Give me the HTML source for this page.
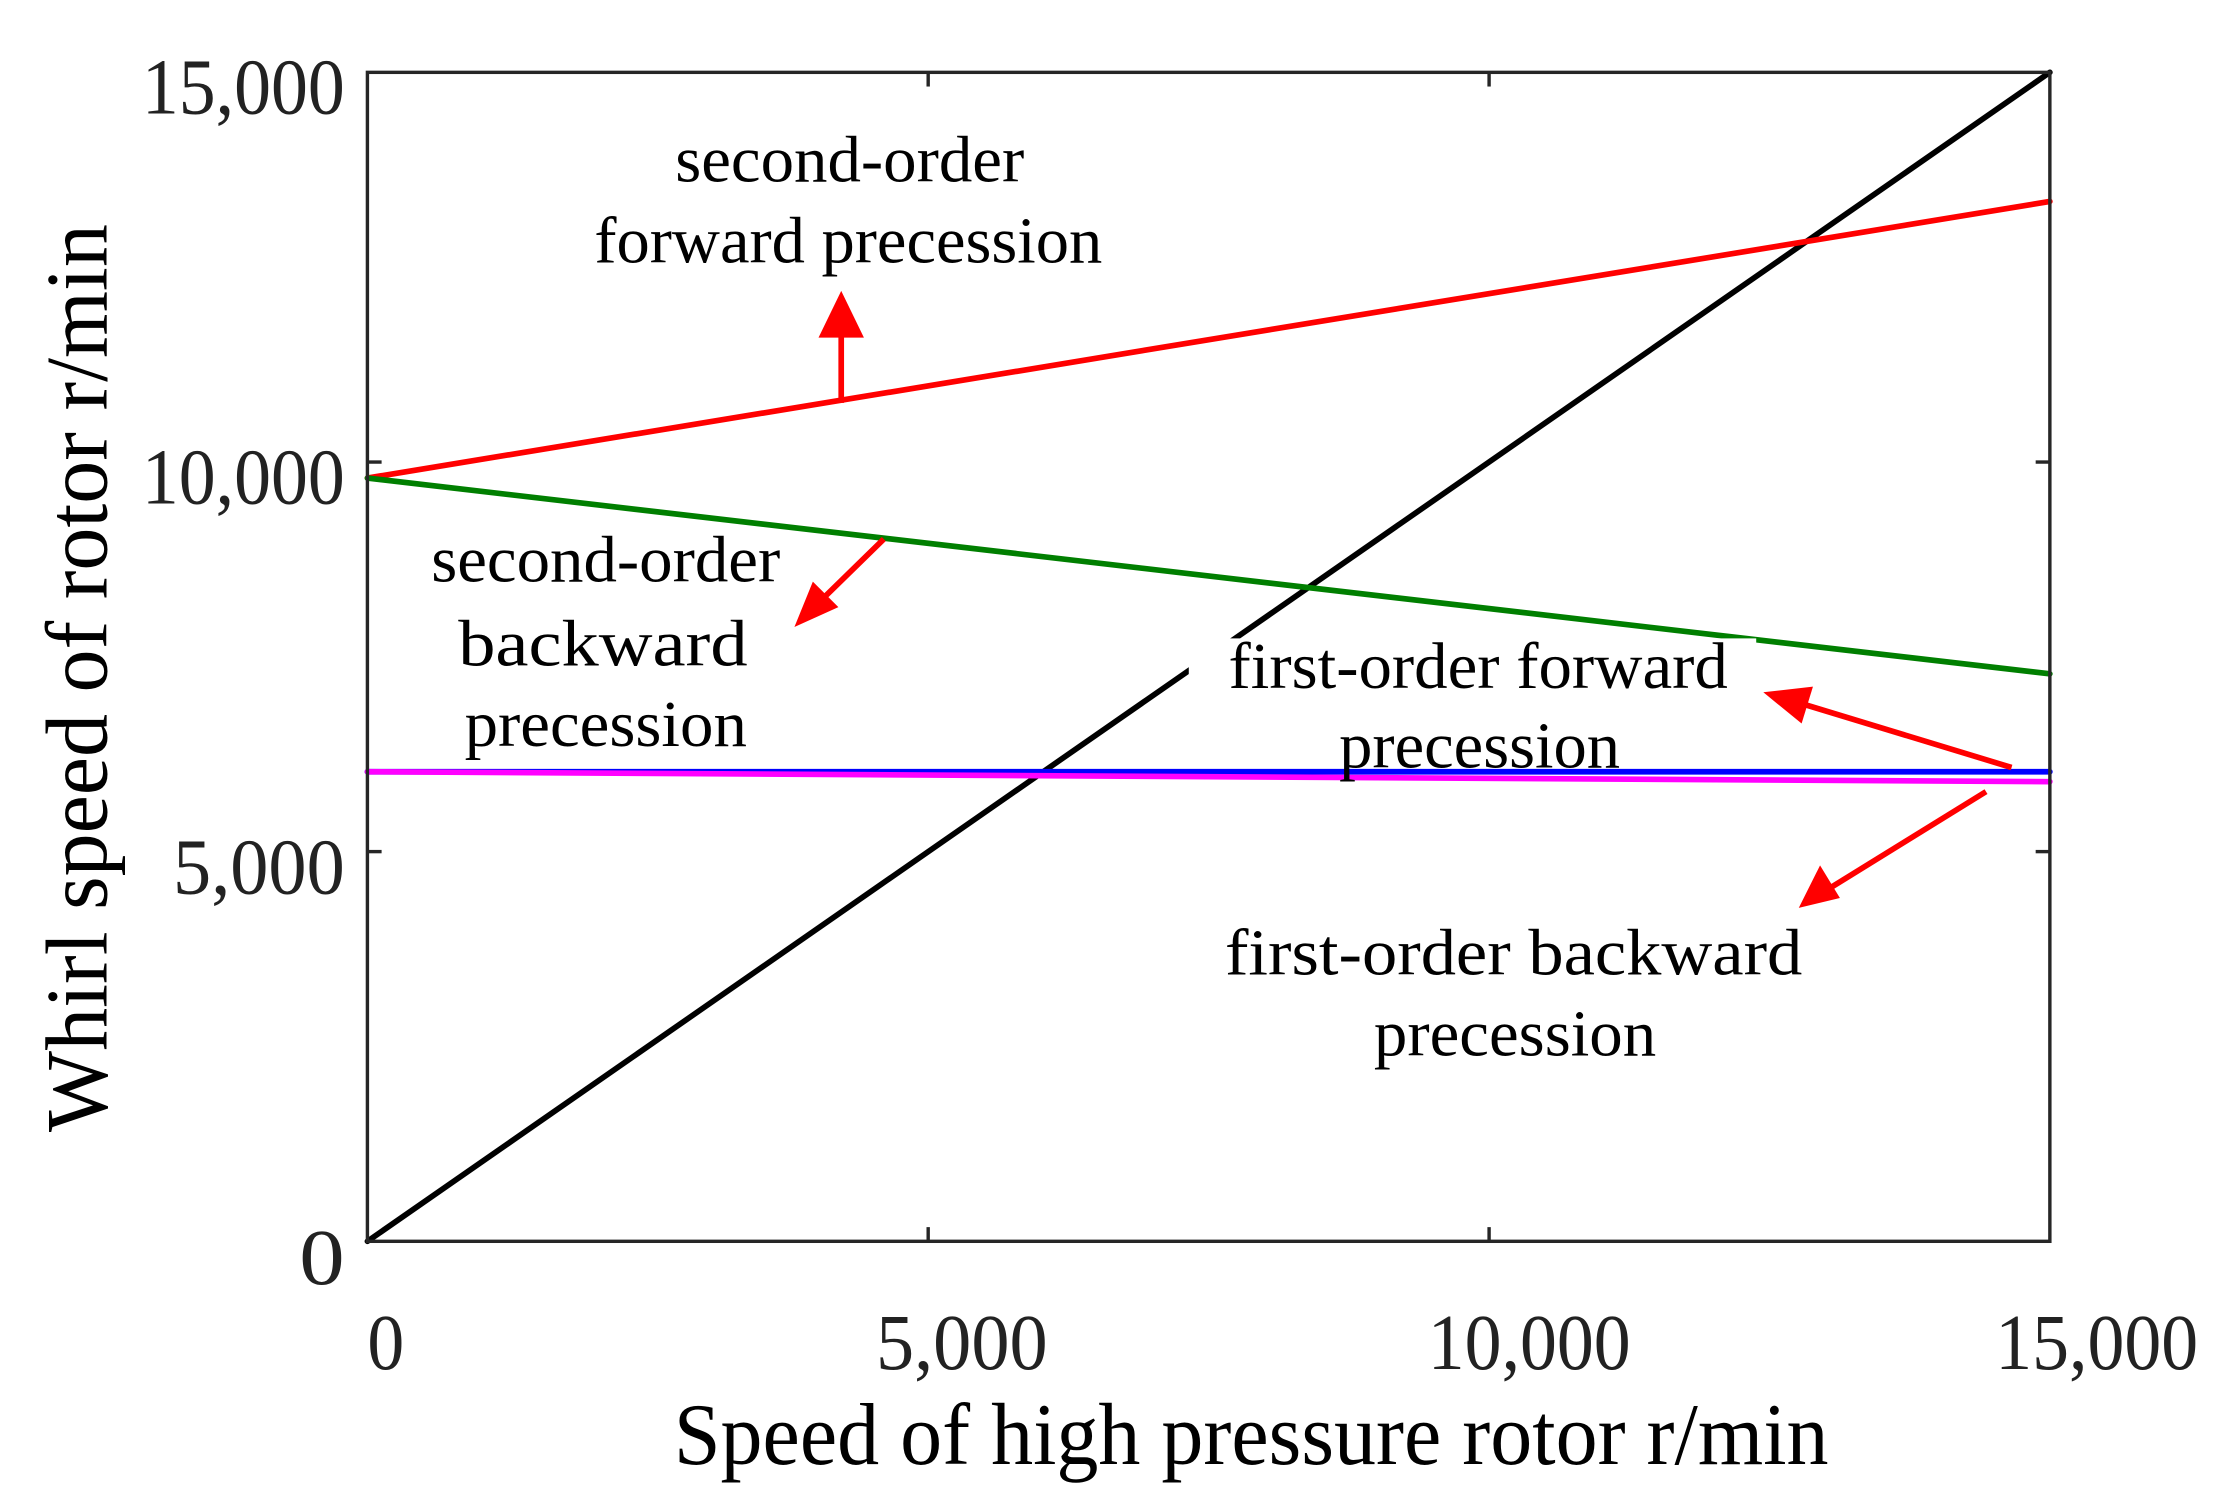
<!DOCTYPE html>
<html><head><meta charset="utf-8"><style>html,body{margin:0;padding:0;background:#fff}svg{display:block}</style></head>
<body>
<svg width="2213" height="1510" viewBox="0 0 1560 1064.4" preserveAspectRatio="none" xmlns="http://www.w3.org/2000/svg" font-family="Liberation Serif, serif" fill="#222">
<g stroke-width="4" fill="none" stroke-linecap="round">
<line x1="259" y1="875" x2="1445" y2="51" stroke="#000"/>
<line x1="259" y1="337" x2="1445" y2="142" stroke="#ff0000"/>
<line x1="259" y1="337" x2="1445" y2="475" stroke="#007f00"/>
<line x1="259" y1="544" x2="1445" y2="544" stroke="#0000ff"/>
<line x1="259" y1="544" x2="1445" y2="551" stroke="#ff00ff"/>
</g>
<rect x="838" y="450" width="400" height="45" fill="#fff"/>
<g stroke="#262626" stroke-width="2.4" fill="none">
<rect x="259" y="51" width="1186" height="824"/>
<line x1="654.3" y1="875" x2="654.3" y2="865"/><line x1="1049.7" y1="875" x2="1049.7" y2="865"/>
<line x1="654.3" y1="51" x2="654.3" y2="61"/><line x1="1049.7" y1="51" x2="1049.7" y2="61"/>
<line x1="259" y1="600.3" x2="269" y2="600.3"/><line x1="259" y1="325.7" x2="269" y2="325.7"/>
<line x1="1445" y1="600.3" x2="1435" y2="600.3"/><line x1="1445" y1="325.7" x2="1435" y2="325.7"/>
</g>
<g font-size="56" text-anchor="end">
<text x="243" y="905" textLength="32" lengthAdjust="spacingAndGlyphs">0</text>
<text x="243" y="630" textLength="121" lengthAdjust="spacingAndGlyphs">5,000</text>
<text x="243" y="355" textLength="143" lengthAdjust="spacingAndGlyphs">10,000</text>
<text x="243" y="80" textLength="143" lengthAdjust="spacingAndGlyphs">15,000</text>
</g>
<g font-size="56" text-anchor="middle">
<text x="272" y="965" textLength="26" lengthAdjust="spacingAndGlyphs">0</text>
<text x="678" y="965" textLength="121" lengthAdjust="spacingAndGlyphs">5,000</text>
<text x="1078" y="965" textLength="143" lengthAdjust="spacingAndGlyphs">10,000</text>
<text x="1478" y="965" textLength="143" lengthAdjust="spacingAndGlyphs">15,000</text>
</g>
<text x="882" y="1032" font-size="62" fill="#000" text-anchor="middle" textLength="814" lengthAdjust="spacingAndGlyphs">Speed of high pressure rotor r/min</text>
<text transform="translate(75,478) rotate(-90)" font-size="62" fill="#000" text-anchor="middle" textLength="640" lengthAdjust="spacingAndGlyphs">Whirl speed of rotor  r/min</text>
<g font-size="46" fill="#000" text-anchor="middle">
<text x="599" y="128" textLength="246" lengthAdjust="spacingAndGlyphs">second-order</text>
<text x="598" y="185" textLength="358" lengthAdjust="spacingAndGlyphs">forward precession</text>
<text x="427" y="410" textLength="246" lengthAdjust="spacingAndGlyphs">second-order</text>
<text x="425" y="469" textLength="204" lengthAdjust="spacingAndGlyphs">backward</text>
<text x="427" y="526" textLength="199" lengthAdjust="spacingAndGlyphs">precession</text>
<text x="1042" y="485" textLength="352" lengthAdjust="spacingAndGlyphs">first-order forward</text>
<text x="1043" y="541" textLength="198" lengthAdjust="spacingAndGlyphs">precession</text>
<text x="1067" y="687" textLength="407" lengthAdjust="spacingAndGlyphs">first-order backward</text>
<text x="1068" y="744" textLength="199" lengthAdjust="spacingAndGlyphs">precession</text>
</g>
<g stroke="#ff0000" stroke-width="4" fill="#ff0000">
<line x1="593" y1="284" x2="593" y2="232"/>
<polygon points="593,205 577,238 609,238" stroke="none"/>
<line x1="623" y1="380" x2="580" y2="422"/>
<polygon points="560,442 573,410 591,428" stroke="none"/>
<line x1="1418" y1="541" x2="1270" y2="496"/>
<polygon points="1243,488 1278,484 1270,510" stroke="none"/>
<line x1="1400" y1="558" x2="1290" y2="626"/>
<polygon points="1268,640 1283,610 1297,633" stroke="none"/>
</g>
</svg>
</body></html>
